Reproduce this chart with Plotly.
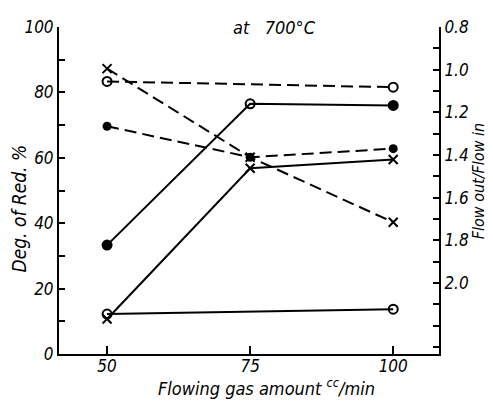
import plotly.graph_objects as go

gas_flow = [50, 75, 100]

# Degree of reduction (%), left axis, solid lines
red_filled = [33.3, 76.5, 76.0]          # filled circles (open at 75)
red_filled_symbols = ["circle", "circle-open", "circle"]
red_cross = [10.7, 56.8, 59.5]
red_open_x = [50, 100]
red_open = [12.2, 13.7]

# Flow out / Flow in, right axis (reversed), dashed lines
flow_open_x = [50, 100]
flow_open_v = [1.055, 1.082]
flow_filled = [1.265, 1.41, 1.37]
flow_cross = [0.995, 1.41, 1.715]

left_ticks = [0, 20, 40, 60, 80, 100]
right_ticks = [0.8, 1.0, 1.2, 1.4, 1.6, 1.8, 2.0]
right_labels = ["0.8", "1.0", "1.2", "1.4", "1.6", "1.8", "2.0"]
x_ticks = [50, 75, 100]

FONT = "DejaVu Sans Condensed"
LW = 2
MS = 9

fig = go.Figure()

# solid lines (left axis)
fig.add_trace(go.Scatter(x=gas_flow, y=red_filled, mode="lines+markers",
    line=dict(color="black", width=LW),
    marker=dict(symbol=red_filled_symbols, size=MS, color="black",
                line=dict(color="black", width=2)), showlegend=False))
fig.add_trace(go.Scatter(x=gas_flow, y=red_cross, mode="lines+markers",
    line=dict(color="black", width=LW),
    marker=dict(symbol="x-thin", size=MS, line=dict(color="black", width=2)),
    showlegend=False))
fig.add_trace(go.Scatter(x=red_open_x, y=red_open, mode="lines+markers",
    line=dict(color="black", width=LW),
    marker=dict(symbol="circle-open", size=MS, color="black",
                line=dict(color="black", width=2)), showlegend=False))

# dashed lines (right axis)
dash = "12px,6px"
fig.add_trace(go.Scatter(x=flow_open_x, y=flow_open_v, mode="lines+markers",
    yaxis="y2", line=dict(color="black", width=LW, dash=dash),
    marker=dict(symbol="circle-open", size=MS, color="black",
                line=dict(color="black", width=2)), showlegend=False))
fig.add_trace(go.Scatter(x=gas_flow, y=flow_filled, mode="lines+markers",
    yaxis="y2", line=dict(color="black", width=LW, dash=dash),
    marker=dict(symbol="circle", size=MS, color="black"), showlegend=False))
fig.add_trace(go.Scatter(x=gas_flow, y=flow_cross, mode="lines+markers",
    yaxis="y2", line=dict(color="black", width=LW, dash=dash),
    marker=dict(symbol="x-thin", size=MS, line=dict(color="black", width=2)),
    showlegend=False))

tickfont = dict(family=FONT, size=17, color="black", style="italic")

# page has an 8px body margin: figure is 485x393 and offset by 8px
fig.update_layout(
    width=485, height=393,
    margin=dict(l=51, r=54, t=9, b=47),
    paper_bgcolor="white", plot_bgcolor="white",
    xaxis=dict(range=[41.6, 108.0], tickvals=x_ticks, ticks="inside",
               ticklen=8, tickwidth=2, tickcolor="black",
               showline=True, linecolor="black", linewidth=2,
               showgrid=False, zeroline=False, tickfont=tickfont,
               ticklabelstandoff=-4),
    yaxis=dict(range=[0, 100], tickvals=left_ticks, ticks="inside",
               ticklen=6, tickwidth=2, tickcolor="black",
               minor=dict(dtick=10, ticks="inside", ticklen=6, tickwidth=2, tickcolor="black"),
               showline=True, linecolor="black", linewidth=2,
               showgrid=False, zeroline=False, tickfont=tickfont,
               ticklabeloverflow="allow"),
    yaxis2=dict(range=[2.332, 0.8], overlaying="y", side="right",
                tickvals=right_ticks, ticktext=right_labels, ticks="inside",
                ticklen=6, tickwidth=2, tickcolor="black",
                minor=dict(dtick=0.1, tick0=0.8, ticks="inside", ticklen=6, tickwidth=2, tickcolor="black"),
                showline=True, linecolor="black", linewidth=2,
                showgrid=False, zeroline=False, tickfont=tickfont,
                ticklabeloverflow="allow"),
)

def px_ann(text, x, y, angle=0, size=16):
    # x, y in page pixels of the reference
    fig.add_annotation(text=text, x=(x - 59) / 380,
        y=(354 - y) / 337, xref="paper", yref="paper",
        showarrow=False, textangle=angle, xanchor="center", yanchor="middle",
        font=dict(family=FONT, size=size, color="black", style="italic"))

px_ann("at   700°C", 274, 18, size=18)
px_ann("Deg. of Red. %", 19, 204, angle=-90, size=19)
px_ann("Flow out/Flow in", 478, 176, angle=-90, size=16)
px_ann("Flowing gas amount <sup>cc</sup>/min", 266, 388, size=18)

fig.write_html("out.html")
